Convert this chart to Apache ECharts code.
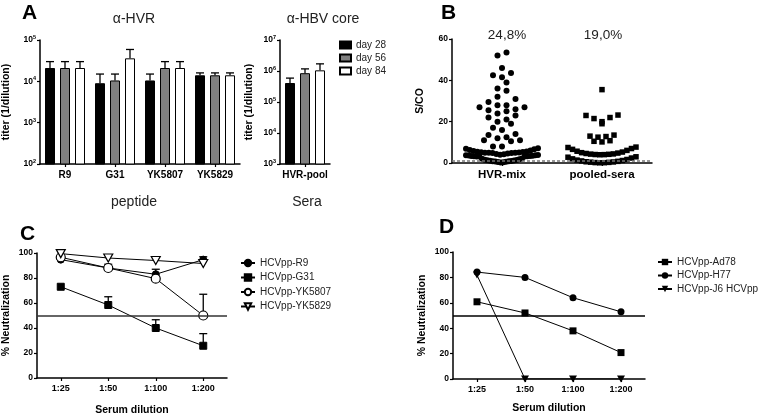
<!DOCTYPE html>
<html><head><meta charset="utf-8">
<script src="https://cdn.jsdelivr.net/npm/echarts@6/dist/echarts.min.js"></script>
<style>html,body{margin:0;padding:0;background:#fff}#c{width:767px;height:417px}</style>
</head><body><div id="c"></div>
<script>
// ---------- DATA ----------
const peptides = ['R9', 'G31', 'YK5807', 'YK5829'];
const seraCats = ['HVR-pool'];
const dayNames = ['day 28', 'day 56', 'day 84'];
const hvrTiter28 = [21000, 9000, 10500, 14000];
const hvrTiter56 = [21000, 10500, 21000, 14000];
const hvrTiter84 = [21000, 36000, 21000, 14000];
const hvrErr28 = [30000, 15000, 15000, 16000];
const hvrErr56 = [30000, 15000, 30000, 16000];
const hvrErr84 = [30000, 59000, 30000, 16000];
const hbvTiter = [410000, 850000, 1050000];
const hbvErr = [590000, 1170000, 1700000];

const bCats = ['HVR-mix', 'pooled-sera'];
const bPercent = ['24,8%', '19,0%'];
const hvrMix = [53.5, 52, 46, 43.5, 42.5, 41.5, 39, 36, 35, 32, 31, 29.5, 28, 28, 27, 27, 26, 25.5, 25, 24, 23, 22, 21, 20, 19, 17, 16, 14, 13.5, 12.5, 12, 11, 11, 10.5, 8, 8,
  7.1, 6.9, 6.6, 6.3, 6.0, 5.8, 5.6, 5.4, 5.3, 5.2, 5.1, 5.0, 4.95, 4.9, 4.85, 4.8,
  4.6, 4.4, 4.2, 4.0, 3.9, 3.8, 3.7, 3.6, 3.5, 3.4, 3.4, 3.3, 3.3, 3.2, 3.2, 3.1,
  2.2, 2.0, 1.8, 1.6, 1.4, 1.3, 1.2, 1.1, 1.0, 0.9, 0.8, 0.7, 0.6, 0.5, 0.4, 0.3];
const pooledSera = [35.5, 23.2, 23, 22, 21.5, 20, 19, 13.5, 13, 12.8, 12.5, 10.8, 10.5, 10.2,
  7.7, 7.5, 7.0, 6.6, 6.1, 5.7, 5.3, 5.0, 4.8, 4.6, 4.4, 4.3, 4.2, 4.1, 4.05, 4.0,
  3.0, 2.8, 2.4, 2.0, 1.7, 1.4, 1.2, 1.0, 0.8, 0.6, 0.5, 0.4, 0.3, 0.2, 0.15, 0.1];
const cutoff = 1;

const dilutions = ['1:25', '1:50', '1:100', '1:200'];
const cNames = ['HCVpp-R9', 'HCVpp-G31', 'HCVpp-YK5807', 'HCVpp-YK5829'];
const cR9 = [94.7, 88, 83, 94.7];
const cG31 = [73, 58.4, 40, 25.8];
const cYK5807 = [96.6, 88, 79.5, 50];
const cYK5829 = [99.5, 96, 94, 91.6];
const cR9Err = [null, null, 87, 97];
const cG31Err = [null, 65, 46.6, 35.5];
const cYK5807Err = [null, 91, null, 67];
const threshold = 50;

const dNames = ['HCVpp-Ad78', 'HCVpp-H77', 'HCVpp-J6 HCVpp'];
const dAd78 = [60.8, 52, 37.9, 20.8];
const dH77 = [84.2, 80, 64, 52.9];
const dJ6 = [81.8, 0, 0, 0];

// ---------- LAYOUT ----------
const FONT = '"Liberation Sans", Arial, sans-serif';
const gA1 = {left: 40, top: 40, width: 200, height: 124};
const gA2 = {left: 280, top: 40, width: 50, height: 124};
const gB = {left: 452, top: 39, width: 200, height: 124};
const gC = {left: 37, top: 253, width: 190, height: 127};
const gD = {left: 453, top: 252, width: 192, height: 127};

const axisLine = {lineStyle: {color: '#000', width: 1.5}};
const axisTick = {show: true, length: 3, lineStyle: {color: '#000', width: 1.2}};
const tickFont = {fontFamily: FONT, fontWeight: 'bold', fontSize: 8.5, color: '#000'};
const logLabel = {
  fontFamily: FONT, fontWeight: 'bold', fontSize: 8.5, color: '#000', margin: 4,
  formatter: v => '10{s|' + Math.round(Math.log10(v)) + '}',
  rich: {s: {fontSize: 5.5, fontWeight: 'bold', fontFamily: FONT, verticalAlign: 'top', padding: [0, 0, 5, 0]}}
};
const nameStyle = {fontFamily: FONT, fontWeight: 'bold', fontSize: 10.5, color: '#000'};

function errRender(offsets, capW) {
  return function (params, api) {
    const cat = api.value(0), lo = api.value(1), hi = api.value(2), k = api.value(3);
    const p1 = api.coord([cat, lo]);
    const p2 = api.coord([cat, hi]);
    const cx = p1[0] + offsets[k];
    return {
      type: 'group', children: [
        {type: 'line', shape: {x1: cx, y1: p1[1], x2: cx, y2: p2[1]}, style: {stroke: '#000', lineWidth: 1.3}},
        {type: 'line', shape: {x1: cx - capW / 2, y1: p2[1], x2: cx + capW / 2, y2: p2[1]}, style: {stroke: '#000', lineWidth: 1.3}}
      ]
    };
  };
}

// column-scatter layout: values grouped into horizontal rows, spread centre-out (lowest in the middle)
function columnScatter(values, center, binH, maxW, maxStep, xPx) {
  const bins = {};
  values.forEach(v => { const b = Math.floor(v / binH); (bins[b] = bins[b] || []).push(v); });
  const out = [];
  Object.keys(bins).forEach(b => {
    const arr = bins[b].slice().sort((a, c) => a - c);
    const n = arr.length;
    const step = n > 1 ? Math.min(maxStep, maxW / (n - 1)) : 0;
    const slots = [];
    for (let j = 0; j < n; j++) slots.push((j - (n - 1) / 2) * step);
    slots.sort((a, c) => Math.abs(a) - Math.abs(c) || a - c);
    arr.forEach((v, j) => out.push([center + slots[j] / xPx, v]));
  });
  return out;
}
const xPxB = gB.width / 2; // hidden value axis 0.5..2.5
const swarmHvr = columnScatter(hvrMix, 1, 4, 72, 9, xPxB);
const swarmPool = columnScatter(pooledSera, 2, 4, 68, 8, xPxB);

const dayColors = ['#000000', '#808080', '#ffffff'];
const hvrVals = [hvrTiter28, hvrTiter56, hvrTiter84];
const hvrErrs = [hvrErr28, hvrErr56, hvrErr84];

const series = [];
dayNames.forEach((n, k) => {
  series.push({
    type: 'bar', name: n, xAxisIndex: 0, yAxisIndex: 0, data: hvrVals[k], barWidth: 10, barGap: '50%',
    clip: true, itemStyle: {color: dayColors[k], borderColor: '#000', borderWidth: 1}, z: 2
  });
  series.push({
    type: 'bar', name: n, xAxisIndex: 1, yAxisIndex: 1, data: [hbvTiter[k]], barWidth: 10, barGap: '50%',
    clip: true, itemStyle: {color: dayColors[k], borderColor: '#000', borderWidth: 1}, z: 2
  });
});
const errA1 = [];
hvrVals.forEach((arr, k) => arr.forEach((v, i) => errA1.push([i, v, hvrErrs[k][i], k])));
series.push({type: 'custom', xAxisIndex: 0, yAxisIndex: 0, data: errA1, renderItem: errRender([-15, 0, 15], 8), z: 3, silent: true});
const errA2 = hbvTiter.map((v, k) => [0, v, hbvErr[k], k]);
series.push({type: 'custom', xAxisIndex: 1, yAxisIndex: 1, data: errA2, renderItem: errRender([-15, 0, 15], 8), z: 3, silent: true});

// B
series.push({
  type: 'scatter', xAxisIndex: 3, yAxisIndex: 2, data: swarmHvr, symbol: 'circle', symbolSize: 6,
  itemStyle: {color: '#000', opacity: 1}, z: 3,
  markLine: {silent: true, symbol: 'none', label: {show: false}, lineStyle: {color: '#777', width: 1.5, type: [3, 2]}, data: [{yAxis: cutoff}]}
});
series.push({
  type: 'scatter', xAxisIndex: 3, yAxisIndex: 2, data: swarmPool, symbol: 'rect', symbolSize: 5.5,
  itemStyle: {color: '#000', opacity: 1}, z: 3
});

// C
const triDown = 'path://M0,0 L10,0 L5,9 Z';
const cLine = {type: 'line', xAxisIndex: 4, yAxisIndex: 3, lineStyle: {color: '#000', width: 1}, z: 4};
series.push(Object.assign({}, cLine, {name: cNames[0], data: cR9, symbol: 'circle', symbolSize: 7, itemStyle: {color: '#000', borderColor: '#000', borderWidth: 1},
  markLine: {silent: true, symbol: 'none', label: {show: false}, lineStyle: {color: '#333', width: 1.5, type: 'solid'}, data: [{yAxis: threshold}]}}));
series.push(Object.assign({}, cLine, {name: cNames[1], data: cG31, symbol: 'rect', symbolSize: 7, itemStyle: {color: '#000', borderColor: '#000', borderWidth: 1}}));
series.push(Object.assign({}, cLine, {name: cNames[2], data: cYK5807, symbol: 'circle', symbolSize: 9, itemStyle: {color: '#fff', borderColor: '#000', borderWidth: 1.2}}));
series.push(Object.assign({}, cLine, {name: cNames[3], data: cYK5829, symbol: triDown, symbolSize: [9, 8], itemStyle: {color: '#fff', borderColor: '#000', borderWidth: 1.2}}));
const errC = [];
[[cR9, cR9Err], [cG31, cG31Err], [cYK5807, cYK5807Err]].forEach(([v, e]) => e.forEach((h, i) => { if (h != null) errC.push([i, v[i], h, 0]); }));
series.push({type: 'custom', xAxisIndex: 4, yAxisIndex: 3, data: errC, renderItem: errRender([0], 8), z: 3, silent: true});

// D
const dLine = {type: 'line', xAxisIndex: 5, yAxisIndex: 4, lineStyle: {color: '#000', width: 1}, z: 4};
series.push(Object.assign({}, dLine, {name: dNames[0], data: dAd78, symbol: 'rect', symbolSize: 7, itemStyle: {color: '#000'},
  markLine: {silent: true, symbol: 'none', label: {show: false}, lineStyle: {color: '#000', width: 1.5, type: 'solid'}, data: [{yAxis: threshold}]}}));
series.push(Object.assign({}, dLine, {name: dNames[1], data: dH77, symbol: 'circle', symbolSize: 7, itemStyle: {color: '#000'}}));
series.push(Object.assign({}, dLine, {name: dNames[2], data: dJ6, symbol: triDown, symbolSize: [8, 7], itemStyle: {color: '#000'}}));

const catAxis = (grid, data, fs) => ({
  type: 'category', gridIndex: grid, data: data, boundaryGap: true,
  axisLine: axisLine, axisTick: Object.assign({alignWithLabel: true}, axisTick),
  axisLabel: {fontFamily: FONT, fontWeight: 'bold', fontSize: fs, color: '#000', margin: 6, interval: 0},
  splitLine: {show: false}
});

const option = {
  animation: false,
  backgroundColor: '#fff',
  grid: [gA1, gA2, gB, gC, gD],
  xAxis: [
    catAxis(0, peptides, 10),
    catAxis(1, seraCats, 10),
    catAxis(2, bCats, 11.5),
    {type: 'value', gridIndex: 2, min: 0.5, max: 2.5, show: false},
    Object.assign(catAxis(3, dilutions, 9), {name: 'Serum dilution', nameLocation: 'middle', nameGap: 27, nameTextStyle: nameStyle}),
    Object.assign(catAxis(4, dilutions, 9), {name: 'Serum dilution', nameLocation: 'middle', nameGap: 24, nameTextStyle: nameStyle})
  ],
  yAxis: [
    {type: 'log', logBase: 10, gridIndex: 0, min: 100, max: 100000, axisLine: Object.assign({show: true}, axisLine), axisTick: axisTick, axisLabel: logLabel, splitLine: {show: false}, minorTick: {show: false},
      name: 'titer (1/dilution)', nameLocation: 'middle', nameGap: 28, nameTextStyle: nameStyle},
    {type: 'log', logBase: 10, gridIndex: 1, min: 1000, max: 10000000, axisLine: Object.assign({show: true}, axisLine), axisTick: axisTick, axisLabel: logLabel, splitLine: {show: false},
      name: 'titer (1/dilution)', nameLocation: 'middle', nameGap: 25, nameTextStyle: nameStyle},
    {type: 'value', gridIndex: 2, min: 0, max: 60, interval: 20, axisLine: Object.assign({show: true}, axisLine), axisTick: axisTick, axisLabel: Object.assign({margin: 4}, tickFont), splitLine: {show: false},
      name: 'S/CO', nameLocation: 'middle', nameGap: 26, nameTextStyle: nameStyle},
    {type: 'value', gridIndex: 3, min: 0, max: 100, interval: 20, axisLine: Object.assign({show: true}, axisLine), axisTick: axisTick, axisLabel: Object.assign({margin: 4}, tickFont), splitLine: {show: false},
      name: '% Neutralization', nameLocation: 'middle', nameGap: 25, nameTextStyle: nameStyle},
    {type: 'value', gridIndex: 4, min: 0, max: 100, interval: 20, axisLine: Object.assign({show: true}, axisLine), axisTick: axisTick, axisLabel: Object.assign({margin: 4}, tickFont), splitLine: {show: false},
      name: '% Neutralization', nameLocation: 'middle', nameGap: 25, nameTextStyle: nameStyle}
  ],
  legend: [
    {data: dayNames, left: 334, top: 35, orient: 'vertical', icon: 'rect', itemWidth: 11, itemHeight: 7, itemGap: 3,
      textStyle: {fontFamily: FONT, fontSize: 10, color: '#222'}, selectedMode: false},
    {data: cNames, left: 235, top: 253, orient: 'vertical', itemWidth: 14, itemHeight: 8, itemGap: 4.5,
      textStyle: {fontFamily: FONT, fontSize: 10, color: '#222'}, selectedMode: false},
    {data: dNames, left: 652, top: 252, orient: 'vertical', itemWidth: 14, itemHeight: 8, itemGap: 3.5,
      textStyle: {fontFamily: FONT, fontSize: 10, color: '#222'}, selectedMode: false}
  ],
  graphic: [
    {type: 'text', left: 22, top: 3, style: {text: 'A', font: 'bold 21px ' + FONT, fill: '#000'}},
    {type: 'text', left: 441, top: 3, style: {text: 'B', font: 'bold 21px ' + FONT, fill: '#000'}},
    {type: 'text', left: 20, top: 224, style: {text: 'C', font: 'bold 21px ' + FONT, fill: '#000'}},
    {type: 'text', left: 439, top: 217, style: {text: 'D', font: 'bold 21px ' + FONT, fill: '#000'}},
    {type: 'text', x: 134, y: 19, style: {text: 'α-HVR', font: '14px ' + FONT, fill: '#222', textAlign: 'center', textVerticalAlign: 'middle'}},
    {type: 'text', x: 323, y: 19, style: {text: 'α-HBV core', font: '14px ' + FONT, fill: '#222', textAlign: 'center', textVerticalAlign: 'middle'}},
    {type: 'text', x: 134, y: 202, style: {text: 'peptide', font: '14px ' + FONT, fill: '#222', textAlign: 'center', textVerticalAlign: 'middle'}},
    {type: 'text', x: 307, y: 202, style: {text: 'Sera', font: '14px ' + FONT, fill: '#222', textAlign: 'center', textVerticalAlign: 'middle'}},
    {type: 'text', x: 507, y: 35, style: {text: bPercent[0], font: '13.5px ' + FONT, fill: '#222', textAlign: 'center', textVerticalAlign: 'middle'}},
    {type: 'text', x: 603, y: 35, style: {text: bPercent[1], font: '13.5px ' + FONT, fill: '#222', textAlign: 'center', textVerticalAlign: 'middle'}}
  ],
  series: series
};
const chart = echarts.init(document.getElementById('c'), null, {renderer: 'canvas'});
chart.setOption(option);
</script>
</body></html>
